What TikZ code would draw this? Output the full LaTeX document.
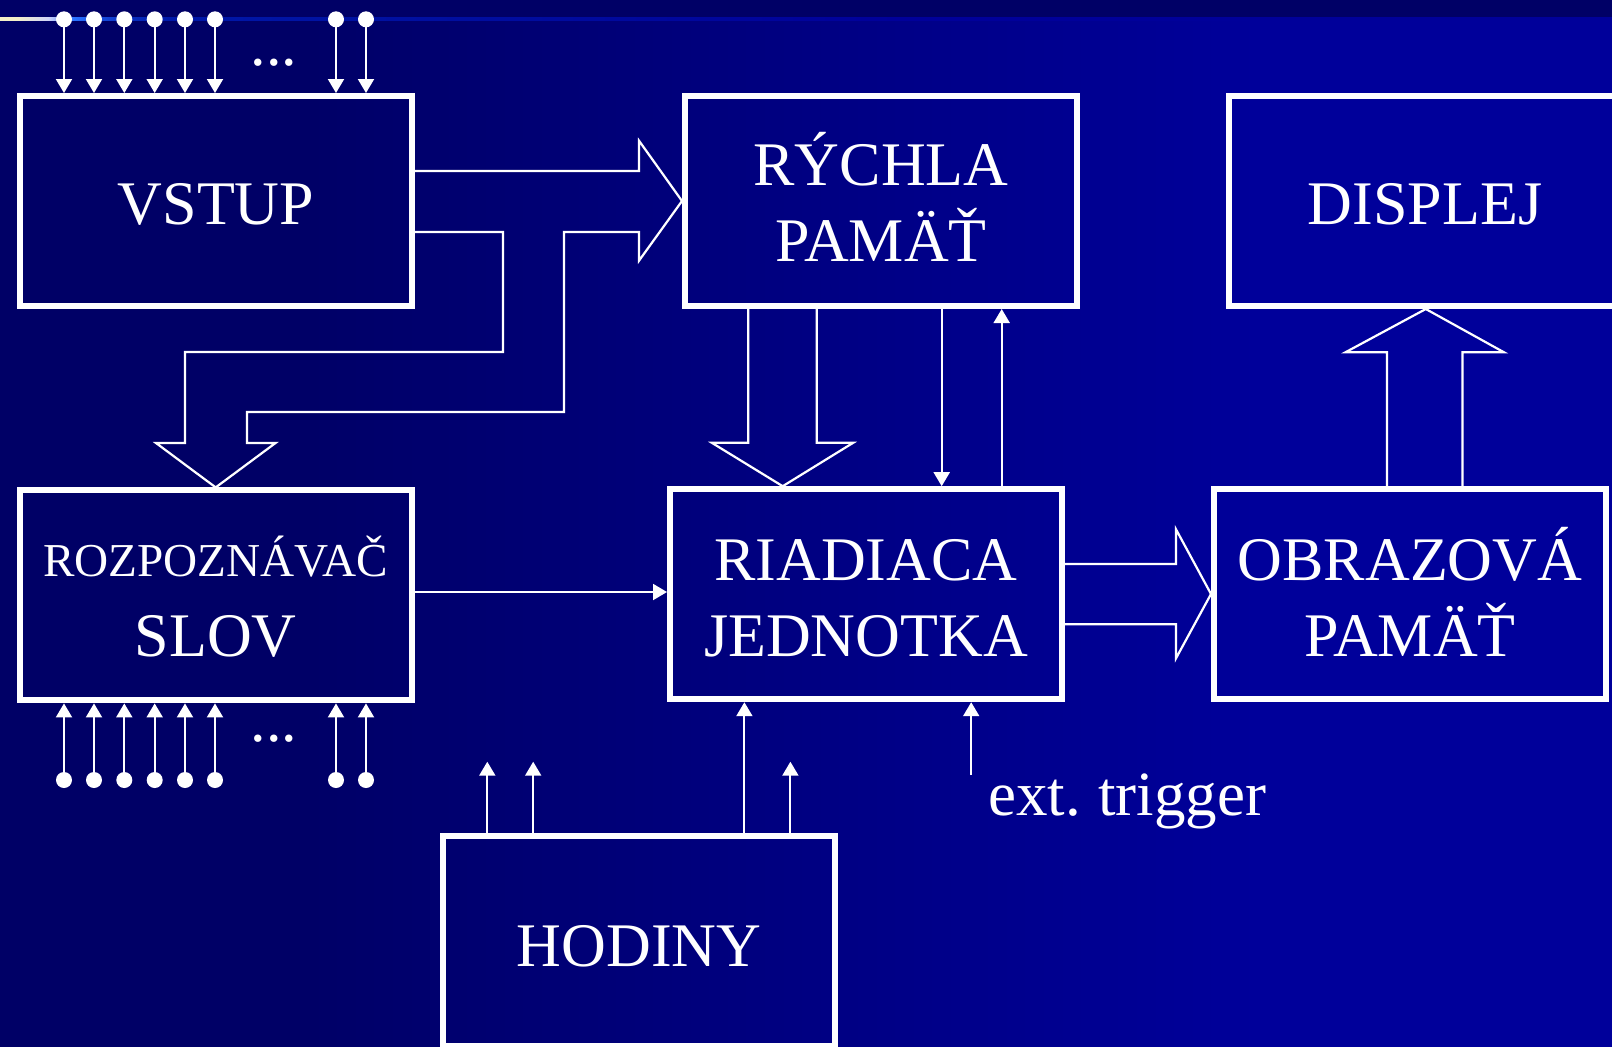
\documentclass[tikz,border=0pt]{standalone}
\usepackage{fontspec}
\setmainfont{Liberation Serif}
\usetikzlibrary{arrows.meta}
\definecolor{bgA}{HTML}{000066}
\definecolor{bgB}{HTML}{00009A}
\definecolor{lcream}{HTML}{F4EFC8}
\definecolor{llav}{HTML}{D0D4F8}
\definecolor{llb}{HTML}{2A72FF}
\definecolor{lmb}{HTML}{1A50E0}
\definecolor{ldb1}{HTML}{0A30C0}
\definecolor{ldb2}{HTML}{0018A8}
\definecolor{ldb3}{HTML}{0010A0}
\pgfdeclarehorizontalshading{bgshade}{100bp}{color(0bp)=(bgA); color(34bp)=(bgA); color(64bp)=(bgB); color(100bp)=(bgB)}
\pgfdeclarehorizontalshading{lineshade}{100bp}{color(0bp)=(lcream); color(25bp)=(lcream); color(25.5bp)=(lcream); color(26.5bp)=(llav); color(27.3bp)=(llb); color(28bp)=(lmb); color(28.9bp)=(ldb1); color(30.3bp)=(ldb2); color(37.4bp)=(ldb3); color(53bp)=(bgB); color(100bp)=(bgB)}
\newcommand\boxfont{\fontsize{31}{38}\selectfont}
\tikzset{
  box/.style={draw=white, line width=3pt, minimum width=196pt, minimum height=105pt,
    inner sep=0pt, text=white, align=center, font=\boxfont},
  wire/.style={draw=white, line width=1pt},
  arr/.style={wire, -{Triangle[length=7pt,width=8pt]}},
  fat/.style={draw=white, line width=1.1pt, line join=miter},
  pin/.style={circle, fill=white, minimum size=8pt, inner sep=0pt},
  lbl/.style={text=white, inner sep=0pt},
}
\begin{document}
\begin{tikzpicture}[x=0.5pt,y=-0.5pt]
\useasboundingbox (0,0) rectangle (1612,1046);
\clip (0,0) rectangle (1612,1046);
\shade[shading=bgshade] (0,0) rectangle (1612,1046);
\fill[bgA] (0,0) rectangle (1612,20.5);
\shade[shading=lineshade] (0,17.6) rectangle (1612,20.8);

% boxes
\node[box] (vstup) at (216,201) {\rule{0pt}{23pt}\smash{VSTUP}};
\node[box] (rychla) at (881,201) {\rule{0pt}{22.7pt}\smash{RÝCHLA}\\\smash{PAMÄŤ}};
\node[box] (displej) at (1425,201) {\rule{0pt}{23pt}\smash{DISPLEJ}};
\node[box, font=\fontsize{31}{39.6}\selectfont] (rozp) at (215.7,595.4)
  {\rule{0pt}{21pt}\smash{\fontsize{23.6}{39.6}\selectfont ROZPOZNÁVAČ}\\\smash{SLOV}};
\node[box] (riad) at (866,594.2) {\rule{0pt}{23.8pt}\smash{RIADIACA}\\\smash{JEDNOTKA}};
\node[box] (obraz) at (1410,594.1) {\rule{0pt}{24.2pt}\smash{OBRAZOVÁ}\\\smash{PAMÄŤ}};
\node[box] (hod) at (639,941.3) {\rule{0pt}{24.7pt}\smash{HODINY}};

% input pins
\foreach \x [count=\i] in {64,94,124.3,154.7,185,215,336,366} {
  \node[pin] (ti\i) at (\x,19.3) {};
  \draw[arr] (ti\i.center) -- (ti\i.center |- vstup.north);
  \node[pin] (bi\i) at (\x,780) {};
  \draw[arr] (bi\i.center) -- (bi\i.center |- rozp.south);
}
\node[lbl, font=\boxfont, anchor=base] (dotsT) at (274,65.5) {...};
\node[lbl, font=\boxfont, anchor=base] (dotsB) at (274,741.2) {...};

% fat arrows
\draw[fat] (vstup.east |- 0,171) -- (639,171) -- (639,140.7) -- (rychla.west)
  -- (639,260.7) -- (639,232) -- (564,232) -- (564,412) -- (247,412) -- (247,443)
  -- (275.5,443) -- (rozp.north) -- (156,443) -- (185,443) -- (185,352)
  -- (503,352) -- (503,232) -- (vstup.east |- 0,232);
\draw[fat] (rychla.south -| 748.3,0) -- (748.3,442.7) -- (711.7,442.7)
  -- (riad.north -| 782.7,0) -- (853.3,442.7) -- (816.7,442.7) -- (rychla.south -| 816.7,0);
\draw[fat] (obraz.north -| 1387,0) -- (1387,352.3) -- (1345.4,352.3)
  -- (displej.south -| 1425.8,0) -- (1504,352.3) -- (1462.4,352.3) -- (obraz.north -| 1462.4,0);
\draw[fat] (riad.east |- 0,564) -- (1176,564) -- (1176,529.3) -- (obraz.west |- 0,594)
  -- (1176,658.3) -- (1176,624.3) -- (riad.east |- 0,624.3);

% thin connectors
\draw[arr] (rozp.east |- 0,592) -- (riad.west |- 0,592);
\draw[arr] (rychla.south -| 941.7,0) -- (riad.north -| 941.7,0);
\draw[arr] (riad.north -| 1001.7,0) -- (rychla.south -| 1001.7,0);
\draw[arr] (hod.north -| 744.4,0) -- (riad.south -| 744.4,0);
\coordinate (c1) at (487.3,761.7);
\coordinate (c2) at (533.2,761.7);
\coordinate (c3) at (790.4,761.7);
\foreach \c in {c1,c2,c3} \draw[arr] (hod.north -| \c) -- (\c);
\coordinate (trg) at (971.2,775);
\draw[arr] (trg) -- (riad.south -| trg);
\node[lbl, font=\fontsize{31.5}{38}\selectfont, anchor=base west] (ext) at (988,815) {ext.\kern-2pt{} trigger};
\end{tikzpicture}
\end{document}
